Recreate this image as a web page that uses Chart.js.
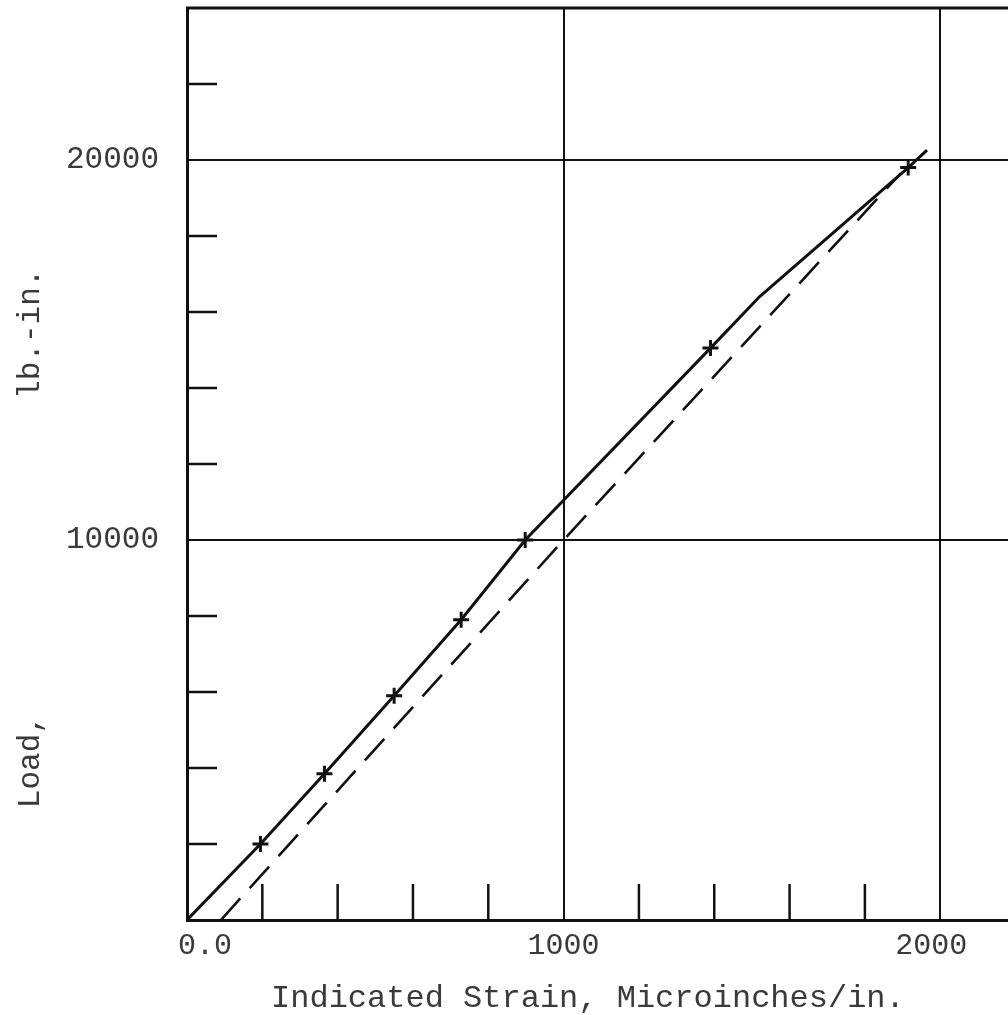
<!DOCTYPE html>
<html>
<head>
<meta charset="utf-8">
<script src="https://cdn.jsdelivr.net/npm/chart.js@4.4.1/dist/chart.umd.min.js"></script>
<style>
  html, body { margin: 0; padding: 0; background: #fff; overflow: hidden; }
  #wrap { width: 1008px; height: 1015px; }
  canvas { display: block; }
</style>
</head>
<body>
<div id="wrap"><canvas id="chart" width="1008" height="1015"></canvas></div>
<script>
// Strain (microinches/in.) vs load (lb.-in.)
const testStrain = [195, 365, 550, 728, 898, 1390, 1915];   // plotted test points (+)
const testLoad   = [2000, 3850, 5900, 7900, 10000, 15050, 19800];

const solidStrain = [0, 195, 365, 550, 728, 898, 1390, 1520, 1915, 1965];  // faired curve
const solidLoad   = [0, 2000, 3850, 5900, 7900, 10000, 15050, 16400, 19800, 20260];

const dashStrain = [90, 1000, 1895];   // theoretical line (dashed)
const dashLoad   = [0, 10000, 19650];

const xTickVals  = [0, 1000, 2000];
const xTickText  = ['  0.0', '1000', '2000 '];
const yTickVals  = [0, 10000, 20000];
const yTickText  = ['', '10000', '20000'];
const xMinorVals = [200, 400, 600, 800, 1200, 1400, 1600, 1800];
const yMinorVals = [2000, 4000, 6000, 8000, 12000, 14000, 16000, 18000, 22000];

const ink = '#111';
const typeInk = '#3a3a3a';
const mono = '"Liberation Mono", "DejaVu Sans Mono", monospace';

function pairs(xs, ys) {
    return xs.map((x, i) => ({ x: x, y: ys[i] }));
}

// no extra room for labels, the frame goes to the edges
function noScalePadding(s) {
    s.paddingTop = 0;
    s.paddingBottom = 0;
    s.paddingLeft = 0;
    s.paddingRight = 0;
}

// short inward ticks and the top frame line
const frameAndMinorTicks = {
    id: 'frameAndMinorTicks',
    afterDatasetsDraw(chart) {
        const ctx = chart.ctx;
        const a = chart.chartArea;
        const xs = chart.scales.x;
        const ys = chart.scales.y;
        ctx.save();
        ctx.strokeStyle = ink;
        ctx.lineCap = 'butt';
        ctx.lineWidth = 3;
        ctx.beginPath();
        ctx.moveTo(a.left - 1, a.top);
        ctx.lineTo(a.right, a.top);
        ctx.stroke();

        ctx.lineWidth = 2.5;
        yMinorVals.forEach(v => {
            const py = ys.getPixelForValue(v);
            ctx.beginPath();
            ctx.moveTo(a.left, py);
            ctx.lineTo(a.left + 30, py);
            ctx.stroke();
        });
        xMinorVals.forEach(v => {
            const px = xs.getPixelForValue(v);
            ctx.beginPath();
            ctx.moveTo(px, a.bottom);
            ctx.lineTo(px, a.bottom - 36);
            ctx.stroke();
        });
        ctx.restore();
    }
};

new Chart(document.getElementById('chart'), {
    type: 'scatter',
    data: {
        datasets: [
            {
                label: 'dashed',
                data: pairs(dashStrain, dashLoad),
                showLine: true,
                borderColor: ink,
                borderWidth: 2.6,
                borderDash: [29, 14],
                pointRadius: 0,
                tension: 0
            },
            {
                label: 'solid',
                data: pairs(solidStrain, solidLoad),
                showLine: true,
                borderColor: ink,
                borderWidth: 3,
                pointRadius: 0,
                tension: 0
            },
            {
                label: 'test',
                data: pairs(testStrain, testLoad),
                showLine: false,
                pointStyle: 'cross',
                pointRadius: 8,
                pointBorderWidth: 3,
                borderColor: ink,
                backgroundColor: ink
            }
        ]
    },
    options: {
        responsive: false,
        animation: false,
        layout: { autoPadding: false, padding: { top: 8, left: 0, right: 0, bottom: 0 } },
        plugins: {
            legend: { display: false },
            tooltip: { enabled: false }
        },
        scales: {
            x: {
                type: 'linear',
                min: 0,
                max: 2180,
                afterBuildTicks: s => { s.ticks = xTickVals.map(v => ({ value: v })); },
                afterFit: s => { s.height = 95; noScalePadding(s); },
                ticks: {
                    padding: 8,
                    color: typeInk,
                    font: { family: mono, size: 30 },
                    maxRotation: 0,
                    callback: (v) => xTickText[xTickVals.indexOf(v)]
                },
                grid: { color: ink, lineWidth: 2, drawTicks: false },
                border: { display: true, color: ink, width: 3 },
                title: {
                    display: true,
                    text: 'Indicated Strain, Microinches/in. ',
                    color: typeInk,
                    font: { family: mono, size: 32, lineHeight: 1 },
                    padding: { top: 0, bottom: 0 }
                }
            },
            y: {
                type: 'linear',
                min: 0,
                max: 24000,
                afterBuildTicks: s => { s.ticks = yTickVals.map(v => ({ value: v })); },
                afterFit: s => { s.width = 187; noScalePadding(s); },
                ticks: {
                    padding: 28,
                    color: typeInk,
                    font: { family: mono, size: 31 },
                    callback: (v) => yTickText[yTickVals.indexOf(v)]
                },
                grid: { color: ink, lineWidth: 2, drawTicks: false },
                border: { display: true, color: ink, width: 3 },
                title: {
                    display: true,
                    text: 'Load,                 lb.-in.        ',
                    color: typeInk,
                    font: { family: mono, size: 31 },
                    padding: { top: 12, bottom: 0 }
                }
            }
        }
    },
    plugins: [frameAndMinorTicks]
});
</script>
</body>
</html>
